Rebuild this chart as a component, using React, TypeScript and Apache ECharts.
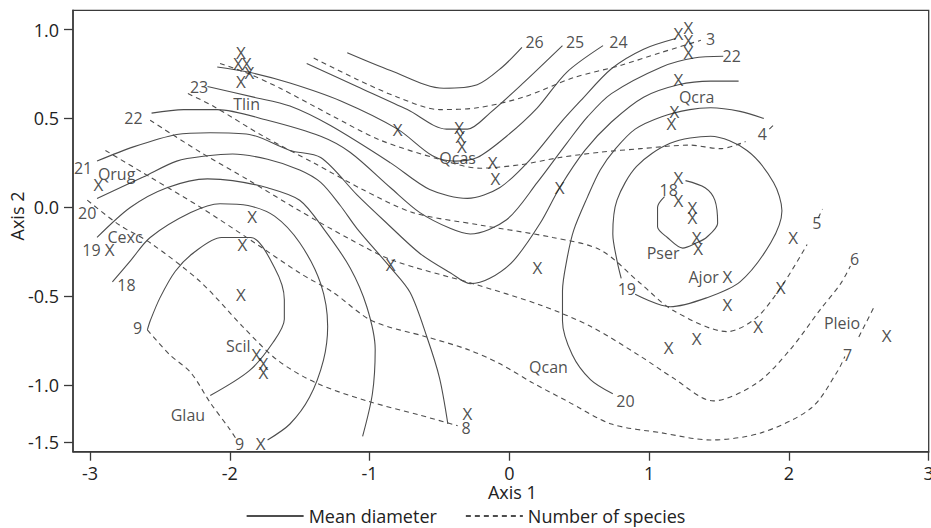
import React, { useEffect, useRef } from "react";
import * as echarts from "echarts";

// ---------- axes ----------
const xMin = -3.122;
const xMax = 3.0;
const yMin = -1.376;
const yMax = 1.109;
const xTickValues = [-3, -2, -1, 0, 1, 2, 3];
const xTickLabels = ["-3", "-2", "-1", "0", "1", "2", "3"];
const yTickValues = [1.0, 0.5, 0.0, -0.5, -1.0, -1.32];
const yTickLabels = ["1.0", "0.5", "0.0", "-0.5", "-1.0", "-1.5"];

// ---------- mean diameter contours (solid) ----------
const md26 = [[-1.16,0.87],[-0.85,0.77],[-0.47,0.67],[-0.23,0.69],[-0.05,0.79],[0.09,0.90]];
const md25 = [[-1.45,0.81],[-1.09,0.68],[-0.73,0.55],[-0.45,0.44],[-0.30,0.44],[-0.14,0.53],[0.10,0.70],[0.38,0.91]];
const md24 = [[-2.09,0.79],[-1.86,0.76],[-1.57,0.70],[-1.21,0.60],[-0.80,0.44],[-0.55,0.29],[-0.39,0.26],[-0.23,0.28],[-0.02,0.40],[0.20,0.56],[0.41,0.76],[0.67,0.91]];
const md23 = [[-2.16,0.68],[-1.83,0.62],[-1.57,0.57],[-1.28,0.46],[-0.85,0.25],[-0.57,0.10],[-0.30,0.05],[-0.07,0.11],[0.15,0.27],[0.36,0.47],[0.51,0.60],[0.73,0.78],[0.96,0.89],[1.19,0.95]];
const md22 = [[-2.56,0.53],[-2.33,0.55],[-2.09,0.55],[-1.73,0.49],[-1.35,0.40],[-1.14,0.31],[-0.85,0.11],[-0.64,-0.03],[-0.42,-0.12],[-0.28,-0.15],[-0.02,-0.07],[0.20,0.14],[0.41,0.36],[0.56,0.51],[0.73,0.64],[1.09,0.79],[1.32,0.84],[1.53,0.85]];
const md21 = [[-2.95,0.26],[-2.69,0.34],[-2.38,0.41],[-2.14,0.42],[-1.86,0.41],[-1.57,0.32],[-1.35,0.28],[-1.09,0.07],[-0.89,-0.08],[-0.64,-0.26],[-0.42,-0.37],[-0.28,-0.43],[-0.14,-0.40],[0.03,-0.30],[0.22,-0.09],[0.36,0.11],[0.54,0.32],[0.73,0.48],[0.96,0.62],[1.21,0.69],[1.44,0.71],[1.64,0.71]];
const md20a = [[-2.95,0.05],[-2.62,0.17],[-2.38,0.26],[-2.16,0.29],[-1.98,0.30],[-1.73,0.27],[-1.50,0.21],[-1.35,0.14],[-1.21,0.01],[-1.09,-0.12],[-0.85,-0.34],[-0.71,-0.48],[-0.59,-0.73],[-0.50,-0.96],[-0.44,-1.22]];
const md20b = [[0.74,-1.05],[0.58,-0.97],[0.45,-0.83],[0.38,-0.64],[0.38,-0.47],[0.41,-0.30],[0.46,-0.13],[0.56,0.06],[0.65,0.21],[0.76,0.33],[0.90,0.44],[1.09,0.51],[1.29,0.55],[1.44,0.56],[1.65,0.54],[1.82,0.50]];
const md19a = [[-2.95,-0.17],[-2.71,0.00],[-2.45,0.11],[-2.16,0.16],[-1.98,0.15],[-1.73,0.11],[-1.50,0.04],[-1.33,-0.12],[-1.14,-0.34],[-1.02,-0.56],[-0.96,-0.80],[-0.98,-1.05],[-1.05,-1.29]];
const md19b = [[0.90,-0.49],[1.15,-0.56],[1.41,-0.51],[1.65,-0.42],[1.87,-0.20],[1.95,-0.02],[1.89,0.14],[1.70,0.32],[1.44,0.40],[1.15,0.36],[0.91,0.23],[0.77,0.04],[0.74,-0.15],[0.77,-0.30],[0.80,-0.40]];
const md18a = [[-2.84,-0.42],[-2.71,-0.30],[-2.57,-0.17],[-2.28,-0.03],[-2.07,0.02],[-1.87,0.01],[-1.68,-0.05],[-1.50,-0.20],[-1.35,-0.43],[-1.30,-0.67],[-1.33,-0.86],[-1.43,-1.07],[-1.57,-1.22],[-1.73,-1.31]];
const md18b = [[1.26,0.15],[1.40,0.11],[1.47,0.04],[1.49,-0.09],[1.41,-0.17],[1.34,-0.20],[1.24,-0.23],[1.13,-0.17],[1.06,-0.11],[1.06,0.00],[1.11,0.06]];
const md17 = [[-2.59,-0.69],[-2.57,-0.64],[-2.50,-0.51],[-2.39,-0.36],[-2.25,-0.25],[-2.06,-0.17],[-1.85,-0.17],[-1.68,-0.34],[-1.61,-0.52],[-1.61,-0.63],[-1.69,-0.76],[-1.86,-0.92],[-2.14,-1.06]];

// ---------- number of species contours (dashed) ----------
const ns3 = [[-1.40,0.84],[-1.09,0.72],[-0.80,0.62],[-0.50,0.55],[-0.23,0.56],[0.10,0.62],[0.46,0.73],[0.80,0.80],[1.08,0.87],[1.37,0.94]];
const ns4 = [[-2.07,0.81],[-1.86,0.75],[-1.64,0.67],[-1.28,0.52],[-0.93,0.38],[-0.50,0.27],[-0.21,0.22],[0.08,0.24],[0.36,0.28],[0.65,0.31],[0.94,0.33],[1.29,0.35],[1.51,0.33],[1.69,0.37]];
const ns4tail = [[1.86,0.44],[1.90,0.47]];
const ns5 = [[-2.30,0.64],[-2.12,0.57],[-1.76,0.40],[-1.40,0.25],[-1.05,0.10],[-0.69,-0.03],[-0.21,-0.10],[0.31,-0.17],[0.65,-0.24],[0.94,-0.43],[1.17,-0.58],[1.56,-0.70],[1.77,-0.62],[1.96,-0.43],[2.13,-0.21]];
const ns5tail = [[2.21,-0.06],[2.24,-0.01]];
const ns6 = [[-2.57,0.49],[-2.21,0.31],[-1.86,0.15],[-1.50,-0.02],[-1.14,-0.18],[-0.83,-0.30],[-0.26,-0.43],[0.22,-0.55],[0.58,-0.67],[0.94,-0.84],[1.17,-0.96],[1.46,-1.09],[1.77,-0.99],[2.01,-0.80],[2.22,-0.58],[2.37,-0.43],[2.44,-0.33]];
const ns7 = [[-2.89,0.32],[-2.57,0.17],[-2.21,0.00],[-1.86,-0.18],[-1.50,-0.37],[-1.26,-0.48],[-0.98,-0.64],[-0.59,-0.73],[-0.30,-0.80],[-0.07,-0.88],[0.17,-0.99],[0.41,-1.09],[0.73,-1.22],[1.09,-1.27],[1.44,-1.31],[1.80,-1.27],[2.16,-1.13],[2.35,-0.92],[2.40,-0.84]];
const ns7tail = [[2.50,-0.73],[2.61,-0.56]];
const ns8 = [[-3.02,0.04],[-2.79,-0.10],[-2.57,-0.20],[-2.21,-0.42],[-1.91,-0.67],[-1.66,-0.86],[-1.38,-0.99],[-1.02,-1.09],[-0.64,-1.17],[-0.37,-1.23]];
const ns9 = [[-2.59,-0.69],[-2.43,-0.83],[-2.28,-0.93],[-2.14,-1.10],[-2.00,-1.25],[-1.95,-1.31]];

// ---------- sites (X markers) ----------
const sitePoints = [
  [-1.92,0.87],[-1.94,0.81],[-1.88,0.81],[-1.86,0.76],[-1.92,0.71],
  [-2.94,0.13],[-2.86,-0.24],[-1.84,-0.05],[-1.91,-0.21],[-1.92,-0.49],
  [-1.81,-0.83],[-1.76,-0.88],[-1.76,-0.93],[-1.78,-1.33],
  [-0.80,0.44],[-0.36,0.45],[-0.35,0.40],[-0.34,0.34],[-0.12,0.25],[-0.10,0.16],
  [0.36,0.11],[-0.85,-0.32],[0.20,-0.34],[-0.30,-1.16],
  [1.21,0.98],[1.28,1.01],[1.28,0.94],[1.28,0.87],[1.21,0.72],[1.18,0.54],[1.16,0.47],
  [1.21,0.17],[1.21,0.04],[1.31,0.00],[1.31,-0.06],[1.34,-0.17],[1.35,-0.23],
  [2.03,-0.17],[1.56,-0.39],[1.94,-0.45],[1.56,-0.55],[1.78,-0.67],[1.34,-0.74],[1.14,-0.79],
  [2.70,-0.72],
];

// ---------- species labels ----------
const speciesNames = ["Tlin", "Qrug", "Cexc", "Scil", "Glau", "Qcas", "Qcra", "Pser", "Ajor", "Qcan", "Pleio"];
const speciesPos = [[-1.88,0.58],[-2.81,0.19],[-2.75,-0.17],[-1.94,-0.78],[-2.30,-1.17],[-0.37,0.28],[1.34,0.62],[1.10,-0.26],[1.39,-0.39],[0.28,-0.90],[2.38,-0.65]];

// ---------- contour labels ----------
const contourLabelText = ["23","22","21","20","19","18","26","25","24","22","18","19","20","3","4","5","6","7","8","9","9"];
const contourLabelPos = [[-2.22,0.68],[-2.69,0.50],[-3.05,0.22],[-3.02,-0.03],[-2.99,-0.24],[-2.74,-0.44],[0.18,0.93],[0.47,0.93],[0.78,0.93],[1.59,0.85],[1.14,0.10],[0.84,-0.46],[0.83,-1.09],[1.44,0.95],[1.81,0.41],[2.20,-0.09],[2.47,-0.29],[2.42,-0.83],[-0.31,-1.24],[-2.66,-0.68],[-1.93,-1.33]];

const solidLines = [md26, md25, md24, md23, md22, md21, md20a, md20b, md19a, md19b, md18a, md18b, md17];
const dashedLines = [ns3, ns4, ns4tail, ns5, ns5tail, ns6, ns7, ns7tail, ns8, ns9];

const FONT = "'Open Sans', 'DejaVu Sans', sans-serif";
const LINE = "#4d4d4d";
const TEXT = "#222";
const AXIS = "#3a3a3a";

export default function App() {
  const ref = useRef<HTMLDivElement>(null);

  useEffect(() => {
    if (!ref.current) return;
    const chart = echarts.init(ref.current, undefined, { renderer: "svg" });

    const lineSeries = (d: number[][], name: string, dashed: boolean) => ({
      type: "line",
      name,
      data: d,
      symbol: "none",
      showSymbol: false,
      smooth: 0.3,
      silent: true,
      z: 2,
      lineStyle: { color: LINE, width: 1.1, type: dashed ? [5, 4] : "solid" },
      itemStyle: { color: LINE },
    });

    const option: any = {
      animation: false,
      backgroundColor: "#fff",
      textStyle: { fontFamily: FONT, color: TEXT },
      grid: {
        left: 73,
        right: 2.3,
        top: 10.3,
        bottom: 76.3,
        show: true,
        borderColor: AXIS,
        borderWidth: 1.3,
        containLabel: false,
        outerBoundsMode: "none",
      },
      legend: {
        data: ["Mean diameter", "Number of species"],
        left: "center",
        top: 502,
        itemWidth: 57,
        itemHeight: 14,
        itemGap: 28,
        selectedMode: false,
        itemStyle: { color: "rgba(0,0,0,0)", borderWidth: 0, opacity: 0 },
        textStyle: { fontFamily: FONT, fontSize: 18, color: TEXT },
      },
      xAxis: {
        type: "value",
        min: xMin,
        max: xMax,
        name: "Axis 1",
        nameLocation: "middle",
        nameGap: 31,
        nameMoveOverlap: false,
        nameTextStyle: { fontFamily: FONT, fontSize: 18, color: TEXT, padding: [0, 0, 0, 23] },
        axisLine: { show: true, onZero: false, lineStyle: { color: AXIS, width: 1.5 } },
        axisTick: { show: true, length: 9, customValues: xTickValues, lineStyle: { color: AXIS, width: 1.3 } },
        axisLabel: {
          customValues: xTickValues,
          fontSize: 18,
          color: TEXT,
          margin: 12,
          fontFamily: FONT,
          formatter: (v: number) => {
            const i = xTickValues.findIndex((t) => Math.abs(t - v) < 1e-6);
            return i >= 0 ? xTickLabels[i] : "";
          },
        },
        splitLine: { show: false },
      },
      yAxis: {
        type: "value",
        min: yMin,
        max: yMax,
        name: "Axis 2",
        nameLocation: "middle",
        nameGap: 47,
        nameRotate: 90,
        nameMoveOverlap: false,
        nameTextStyle: { fontFamily: FONT, fontSize: 18, color: TEXT, padding: [0, 0, 0, 30] },
        axisLine: { show: true, onZero: false, lineStyle: { color: AXIS, width: 1.5 } },
        axisTick: { show: true, length: 9, customValues: yTickValues, lineStyle: { color: AXIS, width: 1.3 } },
        axisLabel: {
          customValues: yTickValues,
          fontSize: 18,
          color: TEXT,
          margin: 14,
          fontFamily: FONT,
          formatter: (v: number) => {
            const i = yTickValues.findIndex((t) => Math.abs(t - v) < 1e-6);
            return i >= 0 ? yTickLabels[i] : "";
          },
        },
        splitLine: { show: false },
      },
      series: [
        ...solidLines.map((d) => lineSeries(d, "Mean diameter", false)),
        ...dashedLines.map((d) => lineSeries(d, "Number of species", true)),
        {
          type: "scatter",
          data: sitePoints,
          symbolSize: 1,
          silent: true,
          z: 5,
          itemStyle: { color: "rgba(0,0,0,0)" },
          label: { show: true, position: "inside", formatter: "X", fontSize: 17, color: TEXT, fontFamily: FONT },
        },
        {
          type: "scatter",
          data: speciesPos.map((p, i) => ({ value: p, name: speciesNames[i] })),
          symbolSize: 1,
          silent: true,
          z: 5,
          itemStyle: { color: "rgba(0,0,0,0)" },
          label: { show: true, position: "inside", formatter: "{b}", fontSize: 16, color: TEXT, fontFamily: FONT },
        },
        {
          type: "scatter",
          data: contourLabelPos.map((p, i) => ({ value: p, name: contourLabelText[i] })),
          symbolSize: 1,
          silent: true,
          z: 5,
          itemStyle: { color: "rgba(0,0,0,0)" },
          label: { show: true, position: "inside", formatter: "{b}", fontSize: 16, color: TEXT, fontFamily: FONT },
        },
      ],
    };

    chart.setOption(option);
    return () => chart.dispose();
  }, []);

  return (
    <div
      ref={ref}
      style={{ position: "fixed", left: 0, top: 0, width: 931, height: 528, background: "#fff" }}
    />
  );
}
